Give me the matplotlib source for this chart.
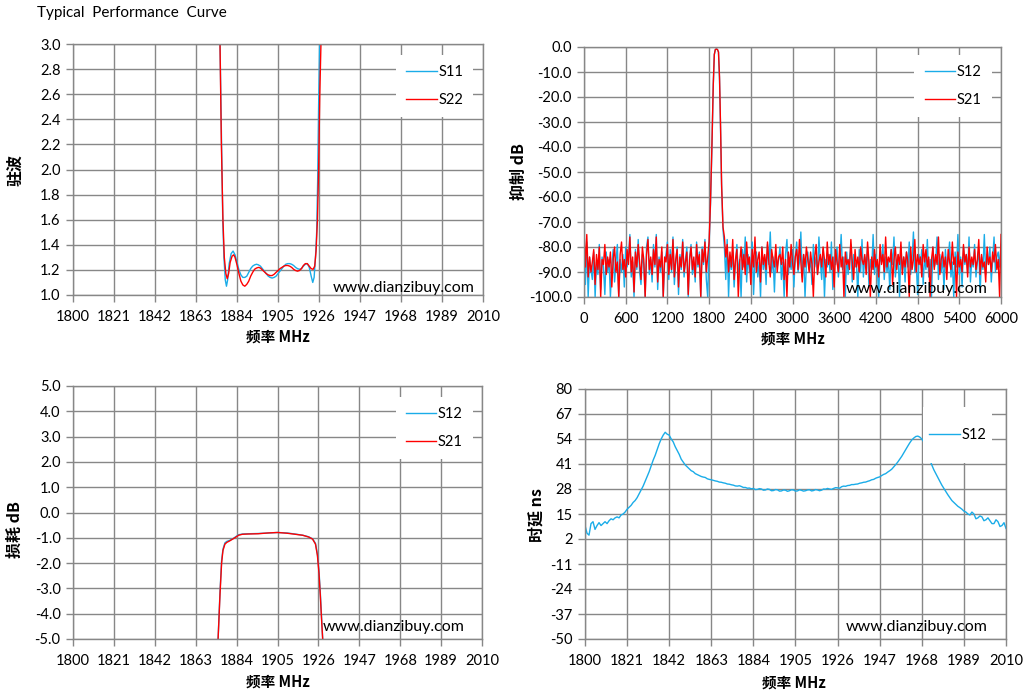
import numpy as np
import matplotlib
matplotlib.use("Agg")
import matplotlib.pyplot as plt
from matplotlib.patches import Rectangle

W, H = 1026, 700
plt.rcParams['font.family'] = ['Lato', 'DejaVu Sans']

BLUE = '#1AACE8'
RED = '#FF0000'
GRID = '#878787'
CJK = ['Noto Sans CJK SC', 'DejaVu Sans']

# ---------------- data: VSWR ----------------
vswr_s11_f = [1874.5, 1875.3, 1876, 1876.7, 1877.3, 1878, 1878.6, 1879.2, 1880, 1881, 1882, 1883, 1884,
              1885, 1886, 1887, 1888, 1889, 1890, 1891, 1892, 1893, 1894, 1895, 1896, 1897, 1898, 1899,
              1900, 1901, 1902, 1903, 1904, 1905, 1906, 1907, 1908, 1909, 1910, 1911, 1912, 1913, 1914,
              1915, 1916, 1917, 1918, 1919, 1920, 1921, 1922, 1922.8, 1923.5, 1924.2, 1924.8, 1925.3,
              1925.8, 1926.3, 1926.8]
vswr_s11 = [3.5, 3.0, 2.3, 1.6, 1.3, 1.12, 1.07, 1.12, 1.25, 1.33, 1.35, 1.32, 1.26,
            1.2, 1.16, 1.14, 1.14, 1.15, 1.18, 1.21, 1.23, 1.24, 1.245, 1.24, 1.23, 1.21, 1.19, 1.17,
            1.15, 1.14, 1.135, 1.14, 1.15, 1.17, 1.19, 1.21, 1.23, 1.245, 1.25, 1.25, 1.245, 1.235, 1.22,
            1.21, 1.205, 1.21, 1.23, 1.245, 1.25, 1.22, 1.15, 1.1, 1.14, 1.3, 1.5, 1.9,
            2.5, 3.0, 3.6]
vswr_s22_f = [1874.5, 1875.3, 1876, 1876.8, 1877.5, 1878.3, 1879, 1879.7, 1880.5, 1881.5, 1882.3, 1883,
              1884, 1885, 1886, 1887, 1888, 1889, 1890, 1891, 1892, 1893, 1894, 1895, 1896, 1897, 1898,
              1899, 1900, 1901, 1902, 1903, 1904, 1905, 1906, 1907, 1908, 1909, 1910, 1911, 1912, 1913,
              1914, 1915, 1916, 1917, 1918, 1919, 1920, 1921, 1922, 1923, 1923.8, 1924.5, 1925.2, 1925.8,
              1926.4, 1927, 1927.5]
vswr_s22 = [3.6, 3.0, 2.2, 1.6, 1.3, 1.17, 1.13, 1.17, 1.26, 1.31, 1.32, 1.3,
            1.24, 1.17, 1.11, 1.08, 1.07, 1.085, 1.11, 1.15, 1.18, 1.205, 1.215, 1.22, 1.215, 1.2, 1.185,
            1.17, 1.16, 1.155, 1.155, 1.165, 1.18, 1.195, 1.21, 1.22, 1.23, 1.235, 1.235, 1.23, 1.22, 1.205,
            1.195, 1.19, 1.195, 1.21, 1.235, 1.25, 1.25, 1.23, 1.21, 1.205, 1.23, 1.35, 1.6, 2.0,
            2.6, 3.0, 3.5]

# ---------------- data: wideband rejection ----------------
rej_s21_low = [-73, -88, -75, -92, -84, -90, -86, -81, -95, -83,
               -89, -80, -100, -85, -87, -79, -91, -84, -88, -82,
               -96, -85, -80, -90, -86, -100, -83, -78, -89, -85,
               -92, -81, -87, -76, -90, -84, -98, -82, -88, -79,
               -86, -93, -80, -85, -100, -83, -77, -89, -84, -91,
               -81, -87, -76, -94, -85, -88, -80, -100, -84, -86,
               -79, -91, -83, -89, -77, -92, -85, -81, -96, -84,
               -88, -78, -90, -86, -82, -99, -85, -80, -89, -84,
               -92, -79, -87, -83, -100, -81, -86, -78, -90, -84]
rej_s12_low = [-80, -95, -78, -100, -84, -89, -93, -82, -100, -86,
               -91, -79, -97, -84, -88, -99, -82, -90, -85, -100,
               -87, -81, -94, -86, -79, -100, -85, -90, -83, -96,
               -80, -88, -84, -75, -92, -86, -100, -81, -89, -77,
               -90, -95, -83, -87, -100, -80, -76, -91, -85, -94,
               -79, -88, -75, -97, -84, -90, -82, -100, -86, -83,
               -78, -93, -81, -90, -76, -95, -86, -80, -99, -83,
               -89, -77, -92, -85, -80, -100, -84, -79, -91, -86,
               -94, -78, -88, -82, -100, -80, -87, -77, -93, -100]
rej_pass_f = [1800, 1820, 1840, 1860, 1875, 1890, 1905, 1920, 1935, 1950, 1965, 1980, 2000]
rej_s21_pass = [-78, -62, -40, -15, -3, -1, -0.8, -1, -2, -12, -32, -55, -72]
rej_s12_pass = [-79, -63, -41, -15, -3, -1, -0.8, -1, -2, -13, -33, -56, -73]
rej_s21_high = [-76, -84, -79, -90, -82, -88, -77, -93, -85, -81,
                -100, -86, -80, -89, -83, -91, -78, -87, -84, -95,
                -81, -88, -76, -90, -85, -82, -94, -80, -87, -83,
                -89, -78, -86, -92, -81, -85, -88, -79, -90, -84,
                -83, -87, -80, -93, -85, -100, -82, -88, -79, -86,
                -91, -84, -81, -89, -77, -86, -94, -83, -88, -80,
                -85, -90, -82, -87, -100, -84, -79, -91, -86, -83,
                -88, -80, -85, -92, -78, -87, -83, -89, -84, -96,
                -81, -86, -90, -79, -88, -84, -100, -82, -87, -85,
                -89, -77, -86, -93, -81, -88, -84, -90, -80, -85,
                -87, -83, -91, -78, -86, -100, -84, -89, -81, -88,
                -85, -92, -79, -87, -83, -90, -76, -88, -84, -86,
                -81, -95, -85, -80, -89, -83, -87, -78, -91, -84,
                -88, -82, -86, -100, -80, -89, -85, -77, -90, -83,
                -87, -84, -92, -79, -86, -81, -88, -84, -100, -85,
                -80, -89, -83, -87, -76, -91, -85, -82, -88, -84,
                -93, -81, -86, -89, -78, -87, -84, -100, -82, -88,
                -85, -90, -79, -86, -83, -92, -80, -88, -84, -87,
                -81, -89, -85, -77, -91, -83, -88, -86, -94, -80,
                -87, -84, -90, -82, -86, -79, -89, -85, -100, -75]
rej_s12_high = [-80, -93, -77, -100, -84, -89, -82, -96, -86, -79,
                -91, -85, -100, -81, -88, -76, -94, -83, -90, -87,
                -78, -99, -85, -82, -92, -86, -100, -80, -89, -84,
                -95, -79, -87, -74, -90, -84, -98, -82, -88, -85,
                -80, -93, -86, -100, -83, -77, -91, -85, -89, -81,
                -96, -84, -78, -90, -86, -74, -92, -83, -100, -87,
                -82, -89, -85, -95, -79, -88, -84, -91, -76, -86,
                -93, -81, -100, -85, -88, -83, -90, -78, -97, -84,
                -87, -80, -92, -86, -75, -89, -84, -100, -82, -91,
                -85, -79, -94, -83, -88, -86, -100, -81, -90, -77,
                -92, -84, -87, -80, -96, -85, -89, -75, -91, -83,
                -88, -100, -82, -86, -79, -93, -84, -90, -85, -97,
                -81, -87, -76, -92, -86, -83, -100, -80, -89, -84,
                -94, -82, -88, -78, -91, -85, -74, -90, -86, -99,
                -83, -87, -81, -95, -84, -89, -77, -92, -85, -100,
                -80, -88, -86, -76, -93, -83, -90, -84, -97, -81,
                -89, -85, -78, -92, -86, -100, -82, -88, -75, -91,
                -84, -96, -80, -87, -83, -90, -76, -94, -85, -88,
                -79, -92, -86, -81, -98, -84, -89, -75, -91, -83,
                -87, -80, -94, -85, -76, -90, -84, -82, -88, -79]

# ---------------- data: insertion loss ----------------
il_f = [1874.5, 1875.5, 1876.3, 1877, 1878, 1879, 1880.5, 1882, 1883.5, 1885, 1887, 1890, 1895, 1900,
        1905, 1910, 1914, 1918, 1921, 1923, 1924.5, 1925.5, 1926.3, 1927, 1927.6, 1928.2]
il_s21 = [-5.0, -3.2, -2.0, -1.5, -1.25, -1.18, -1.12, -1.05, -0.98, -0.9, -0.86, -0.85, -0.84, -0.81,
          -0.79, -0.82, -0.86, -0.9, -0.97, -1.05, -1.25, -1.7, -2.4, -3.3, -4.2, -5.0]
il_s12 = [-5.0, -3.1, -1.9, -1.45, -1.2, -1.14, -1.1, -1.04, -0.96, -0.88, -0.85, -0.84, -0.83, -0.81,
          -0.79, -0.81, -0.85, -0.9, -0.96, -1.04, -1.22, -1.65, -2.3, -3.2, -4.1, -5.0]

# ---------------- data: group delay (1800..2010 MHz, 1 MHz step) ----------------
gd_s12 = [9, 5, 4, 10, 11, 7, 9, 10.5, 9, 10,
          11, 10, 11.5, 12.5, 12, 13, 13.5, 13, 14.5, 15,
          16, 17.5, 18.5, 19.5, 21, 22, 23.5, 25.5, 27.5, 29.5,
          32, 34.5, 37, 40, 43, 45.5, 48.5, 51.5, 54, 56,
          57.5, 56.5, 56, 54, 52.5, 50, 48, 46, 43.5, 42,
          40.5, 39.5, 38.5, 37.5, 37, 36, 35.5, 35, 34.5, 34.2,
          34, 33.3, 33, 32.8, 32.5, 32.2, 32, 31.6, 31.5, 31.2,
          31, 30.6, 30.5, 30.2, 30, 29.6, 29.5, 29.7, 29.3, 28.8,
          28.8, 28.4, 28.5, 28.1, 28.3, 27.7, 27.8, 28.2, 28, 27.4,
          27.5, 28, 27.8, 27.1, 27.2, 27.7, 27.6, 26.9, 27, 27.5,
          27.4, 26.8, 27.1, 27.6, 27.5, 26.9, 27, 27.6, 27.3, 26.9,
          27.1, 27.5, 27.6, 27, 27.2, 27.7, 27.5, 27.1, 27.4, 28,
          27.9, 28.3, 28, 27.8, 28.3, 28.7, 28.6, 28.4, 29.2, 29.5,
          29.4, 29.8, 29.9, 30.3, 30.3, 30.5, 30.6, 31, 31.2, 31.5,
          31.6, 32, 32.3, 32.8, 33, 33.6, 34, 34.3, 35, 35.6,
          36, 36.8, 37.5, 38.3, 39.5, 40.7, 42, 43.5, 45, 46.8,
          48.5, 50.3, 52, 53.5, 54.5, 55.3, 55.5, 55, 54, 52.5,
          50, 46.5, 43, 40.5, 38, 36, 34, 32, 30, 28.3,
          26.5, 25, 23.5, 22, 21, 20, 19, 18.3, 17.5, 16.5,
          16, 15, 14.5, 16, 15, 12.5, 13, 14, 13.5, 11.5,
          12, 13, 11.5, 10, 10, 12, 11, 8.5, 9, 10.5,
          7.5]
gd_f = np.arange(1800, 2011, 1)

narrow_ticks = [1800, 1821, 1842, 1863, 1884, 1905, 1926, 1947, 1968, 1989, 2010]
wide_ticks = list(range(0, 6001, 600))

fig = plt.figure(figsize=(W / 100, H / 100), dpi=100)


def rect(l, r, t, b):
    return [l / W, 1 - b / H, (r - l) / W, (b - t) / H]


def style(ax, xticks, yticks, yfmt):
    ax.set_xlim(xticks[0], xticks[-1])
    ax.set_ylim(yticks[0], yticks[-1])
    ax.set_xticks(xticks)
    ax.set_yticks(yticks)
    ax.set_yticklabels([yfmt.format(v) for v in yticks])
    ax.grid(True, color=GRID, lw=1.0)
    ax.set_axisbelow(True)
    for s in ax.spines.values():
        s.set_color(GRID)
        s.set_linewidth(1.0)
    ax.tick_params(axis='both', colors=GRID, labelcolor='black', labelsize=10.5, length=5, width=1)
    ax.tick_params(axis='x', pad=6)
    ax.tick_params(axis='y', pad=4)


def legend(ax, x, y, frame=True, loc='upper right'):
    lg = ax.legend(loc=loc, bbox_to_anchor=(x, y), frameon=frame, fontsize=10.5,
                   handlelength=2.1, handletextpad=0.1, labelspacing=0.95, borderpad=0.7,
                   borderaxespad=0, fancybox=False)
    if frame:
        lg.get_frame().set_facecolor('white')
        lg.get_frame().set_edgecolor('none')
        lg.get_frame().set_alpha(1)
    lg.set_zorder(7)


def mark(ax, x, y):
    ax.text(x, y, 'www.dianzibuy.com', transform=ax.transAxes, ha='right', va='center',
            fontsize=11.5, color='black', zorder=6)


def flabel(x, y, s, rot=0, size=10.5):
    fig.text(x / W, 1 - y / H, s, ha='center', va='center', rotation=rot,
             family=CJK, fontweight='bold', fontsize=size)


fig.text(37 / W, 1 - 13 / H, 'Typical  Performance  Curve', ha='left', va='center', fontsize=11)

# top-left: VSWR
ax1 = fig.add_axes(rect(73, 483, 44, 295))
ax1.plot(vswr_s11_f, vswr_s11, color=BLUE, lw=1.0, label='S11')
ax1.plot(vswr_s22_f, vswr_s22, color=RED, lw=1.0, label='S22')
style(ax1, narrow_ticks, [1.0 + 0.2 * i for i in range(11)], '{:.1f}')
legend(ax1, 0.976, 0.956)
mark(ax1, 0.98, 0.026)
flabel(15, 170, '驻波', 90, 11.5)
flabel(278, 337, '频率 MHz')

# top-right: rejection
ax2 = fig.add_axes(rect(584, 1001, 47, 297))
s12_x = np.concatenate([np.linspace(0, 1780, len(rej_s12_low)), rej_pass_f,
                        np.linspace(2020, 6000, len(rej_s12_high))])
s12_y = np.concatenate([rej_s12_low, rej_s12_pass, rej_s12_high])
s21_x = np.concatenate([np.linspace(0, 1780, len(rej_s21_low)), rej_pass_f,
                        np.linspace(2020, 6000, len(rej_s21_high))])
s21_y = np.concatenate([rej_s21_low, rej_s21_pass, rej_s21_high])
ax2.plot(s12_x, s12_y, color=BLUE, lw=1.0, label='S12')
ax2.plot(s21_x, s21_y, color=RED, lw=1.0, label='S21')
style(ax2, wide_ticks, [-100 + 10 * i for i in range(11)], '{:.1f}')
legend(ax2, 0.978, 0.968)
mark(ax2, 0.969, 0.034)
flabel(519, 172, '抑制 dB', 90, 11.5)
flabel(793, 339, '频率 MHz')

# bottom-left: insertion loss
ax3 = fig.add_axes(rect(73, 482, 386, 639))
ax3.plot(il_f, il_s12, color=BLUE, lw=1.0, label='S12')
ax3.plot(il_f, il_s21, color=RED, lw=1.0, label='S21')
style(ax3, narrow_ticks, [-5.0 + 1.0 * i for i in range(11)], '{:.1f}')
legend(ax3, 0.978, 0.957)
mark(ax3, 0.958, 0.047)
flabel(15, 530, '损耗 dB', 90, 11.5)
flabel(278, 682, '频率 MHz')

# bottom-right: group delay
ax4 = fig.add_axes(rect(585, 1006, 389, 639))
ax4.plot(gd_f, gd_s12, color=BLUE, lw=1.0, label='S12')
style(ax4, narrow_ticks, [-50 + 13 * i for i in range(11)], '{:.0f}')
ax4.add_patch(Rectangle((0.803, 0.704), 0.164, 0.224, transform=ax4.transAxes,
                        facecolor='white', edgecolor='none', zorder=5))
legend(ax4, 0.885, 0.816, frame=False, loc='center')
mark(ax4, 0.957, 0.048)
flabel(537, 515, '时延 ns', 90, 11.5)
flabel(794, 683, '频率 MHz')

fig.savefig('out.png', dpi=100)
